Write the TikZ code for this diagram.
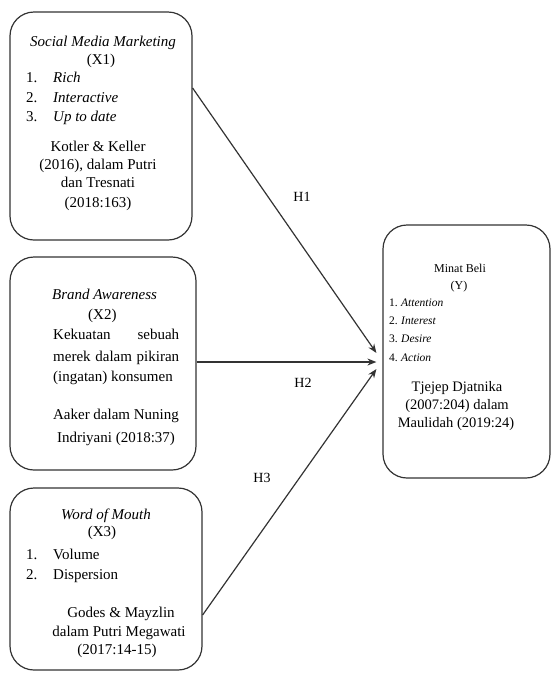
\documentclass[tikz,border=0pt]{standalone}
\usepackage{fontspec}
\setmainfont{Liberation Serif}
\usetikzlibrary{arrows.meta}
\begin{document}
\begin{tikzpicture}[x=1pt,y=-1pt,
  box/.style={draw=black!80, line width=1.2pt, rounded corners=24pt, inner sep=0pt},
  txt/.style={anchor=base, inner sep=0pt, font=\fontsize{15}{17}\selectfont},
  ltxt/.style={anchor=base west, inner sep=0pt, font=\fontsize{15}{17}\selectfont},
  ytxt/.style={anchor=base, inner sep=0pt, font=\fontsize{14.5}{17}\selectfont},
  stxt/.style={anchor=base, inner sep=0pt, font=\fontsize{12}{14}\selectfont},
  sltxt/.style={anchor=base west, inner sep=0pt, font=\fontsize{11.5}{14}\selectfont},
  arr/.style={-{Stealth[length=9pt,width=7pt]}, line width=1.2pt, draw=black!80},
  lab/.style={inner sep=1pt, font=\fontsize{14}{16}\selectfont}]
\useasboundingbox (0,0) rectangle (552,673);
% boxes
\node[box, minimum width=182pt, minimum height=228pt] (b1) at (101,126) {};
\node[box, minimum width=186pt, minimum height=213pt] (b2) at (103,363.5) {};
\node[box, minimum width=192pt, minimum height=182pt] (b3) at (106,579) {};
\node[box, minimum width=167pt, minimum height=253pt] (by) at (466.5,351.5) {};
% box 1 text
\node[txt] (t1a) at (103,46) {\itshape Social Media Marketing};
\node[txt] (t1b) at (101,64) {(X1)};
\node[ltxt] (t1c) at (26,82) {1.};
\node[ltxt] (t1d) at (53,82) {\itshape Rich};
\node[ltxt] (t1e) at (26,102) {2.};
\node[ltxt] (t1f) at (53,102) {\itshape Interactive};
\node[ltxt] (t1g) at (26,121) {3.};
\node[ltxt] (t1h) at (53,121) {\itshape Up to date};
\node[txt] (t1i) at (98,151) {Kotler \& Keller};
\node[txt] (t1j) at (98,169) {(2016), dalam Putri};
\node[txt] (t1k) at (98,187) {dan Tresnati};
\node[txt] (t1l) at (98,207) {(2018:163)};
% box 2 text
\node[ltxt] (t2a) at (52,299) {\itshape Brand Awareness};
\node[ltxt] (t2b) at (88,319) {(X2)};
\node[ltxt] (t2c) at (53,339) {\makebox[126pt][s]{Kekuatan sebuah}};
\node[ltxt] (t2d) at (53,361) {\makebox[126pt][s]{merek dalam pikiran}};
\node[ltxt] (t2e) at (53,381) {(ingatan) konsumen};
\node[txt] (t2f) at (116,419) {Aaker dalam Nuning};
\node[txt] (t2g) at (116,442) {Indriyani (2018:37)};
% box 3 text
\node[txt] (t3a) at (106,519) {\itshape Word of Mouth};
\node[txt] (t3b) at (102,536) {(X3)};
\node[ltxt] (t3c) at (26,559) {1.};
\node[ltxt] (t3d) at (53,559) {Volume};
\node[ltxt] (t3e) at (26,579) {2.};
\node[ltxt] (t3f) at (53,579) {Dispersion};
\node[txt] (t3g) at (121,617) {Godes \& Mayzlin};
\node[txt] (t3h) at (119,636) {dalam Putri Megawati};
\node[txt] (t3i) at (117,654) {(2017:14-15)};
% box Y text
\node[stxt] (tya) at (460,272) {Minat Beli};
\node[stxt] (tyb) at (459,289) {(Y)};
\node[sltxt] (tyc) at (389,306) {1.};
\node[sltxt] (tyd) at (401,306) {\itshape Attention};
\node[sltxt] (tye) at (389,324) {2.};
\node[sltxt] (tyf) at (401,324) {\itshape Interest};
\node[sltxt] (tyg) at (389,342) {3.};
\node[sltxt] (tyh) at (401,342) {\itshape Desire};
\node[sltxt] (tyi) at (389,361) {4.};
\node[sltxt] (tyj) at (401,361) {\itshape Action};
\node[ytxt] (tyk) at (457,391) {Tjejep Djatnika};
\node[ytxt] (tyl) at (457,409) {(2007:204) dalam};
\node[ytxt] (tym) at (456,427) {Maulidah (2019:24)};
% arrows
\draw[arr] ([yshift=38pt]b1.east) -- ([xshift=-6pt,yshift=-1.5pt]by.west);
\draw[arr] ([yshift=1.5pt]b2.east) -- ([xshift=-6pt,yshift=-10.5pt]by.west);
\draw[arr] ([yshift=-36pt]b3.east) -- ([xshift=-6pt,yshift=-17.5pt]by.west);
% labels
\node[lab] (h1) at (302,197) {H1};
\node[lab] (h2) at (303,383) {H2};
\node[lab] (h3) at (262,478) {H3};
\end{tikzpicture}
\end{document}
